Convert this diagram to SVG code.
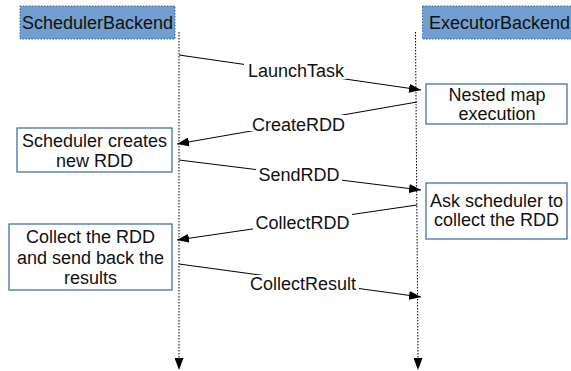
<svg xmlns="http://www.w3.org/2000/svg" width="571" height="371" viewBox="0 0 571 371">
<defs>
<marker id="ah" markerWidth="12" markerHeight="9" refX="12" refY="4.5" orient="auto" markerUnits="userSpaceOnUse">
<path d="M0,0 L12,4.5 L0,9 Z" fill="#000"/>
</marker>
<marker id="lh" markerWidth="9" markerHeight="12" refX="4.5" refY="0" orient="0" markerUnits="userSpaceOnUse">
<path d="M0,0 L9,0 L4.5,12 Z" fill="#000"/>
</marker>
</defs>
<style>
text{font-family:"Liberation Sans",Arial,sans-serif;font-size:18px;fill:#111;text-anchor:middle}
.hdr{fill:#729fcf;stroke:#3465a4;stroke-width:1;stroke-dasharray:1.5 1.5}
.box{fill:#fff;stroke:#3465a4;stroke-width:1.2}
.life{stroke:#000;stroke-width:1;stroke-dasharray:1.5 1.5;fill:none}
.msg{stroke:#000;stroke-width:1;fill:none;marker-end:url(#ah)}
.lbl{fill:#fff;stroke:none}
</style>
<rect width="571" height="371" fill="#fff"/>
<g id="scheduler">
<rect class="hdr" x="20" y="6" width="155" height="33"/>
<text x="97.5" y="29">SchedulerBackend</text>
</g>
<g id="executor">
<rect class="hdr" x="422.5" y="6" width="160" height="33"/>
<text x="429" y="29" style="text-anchor:start">ExecutorBackend</text>
</g>
<g id="connectors">
<path class="life" d="M179,32 L179,358" marker-end="url(#lh)"/>
<path class="life" d="M415.5,32 L418,358" marker-end="url(#lh)"/>
<line class="msg" x1="179" y1="55" x2="421" y2="90"/>
<line class="msg" x1="417" y1="102" x2="177" y2="144"/>
<line class="msg" x1="179" y1="160" x2="421" y2="190"/>
<line class="msg" x1="417" y1="205" x2="177" y2="240"/>
<line class="msg" x1="179" y1="264" x2="421" y2="297"/>
<rect class="lbl" x="244" y="63" width="102" height="16"/>
<text x="296" y="77">LaunchTask</text>
<rect class="lbl" x="248" y="115" width="101" height="16"/>
<text x="298.5" y="131">CreateRDD</text>
<rect class="lbl" x="256" y="166" width="86" height="16"/>
<text x="299" y="181">SendRDD</text>
<rect class="lbl" x="253" y="214" width="99" height="16"/>
<text x="302.5" y="229">CollectRDD</text>
<rect class="lbl" x="247" y="275" width="112" height="16"/>
<text x="303" y="290">CollectResult</text>
</g>
<g id="nested">
<rect class="box" x="426" y="84" width="141" height="40"/>
<text x="497" y="101">Nested map</text>
<text x="497" y="120">execution</text>
</g>
<g id="creates">
<rect class="box" x="17" y="128" width="155" height="44"/>
<text x="94.5" y="147">Scheduler creates</text>
<text x="94.5" y="167">new RDD</text>
</g>
<g id="ask">
<rect class="box" x="426" y="183" width="141" height="56"/>
<text x="496.5" y="207">Ask scheduler to</text>
<text x="496.5" y="226">collect the RDD</text>
</g>
<g id="collect">
<rect class="box" x="9" y="224" width="163" height="66"/>
<text x="90.5" y="243">Collect the RDD</text>
<text x="90.5" y="264">and send back the</text>
<text x="90.5" y="284">results</text>
</g>
</svg>
